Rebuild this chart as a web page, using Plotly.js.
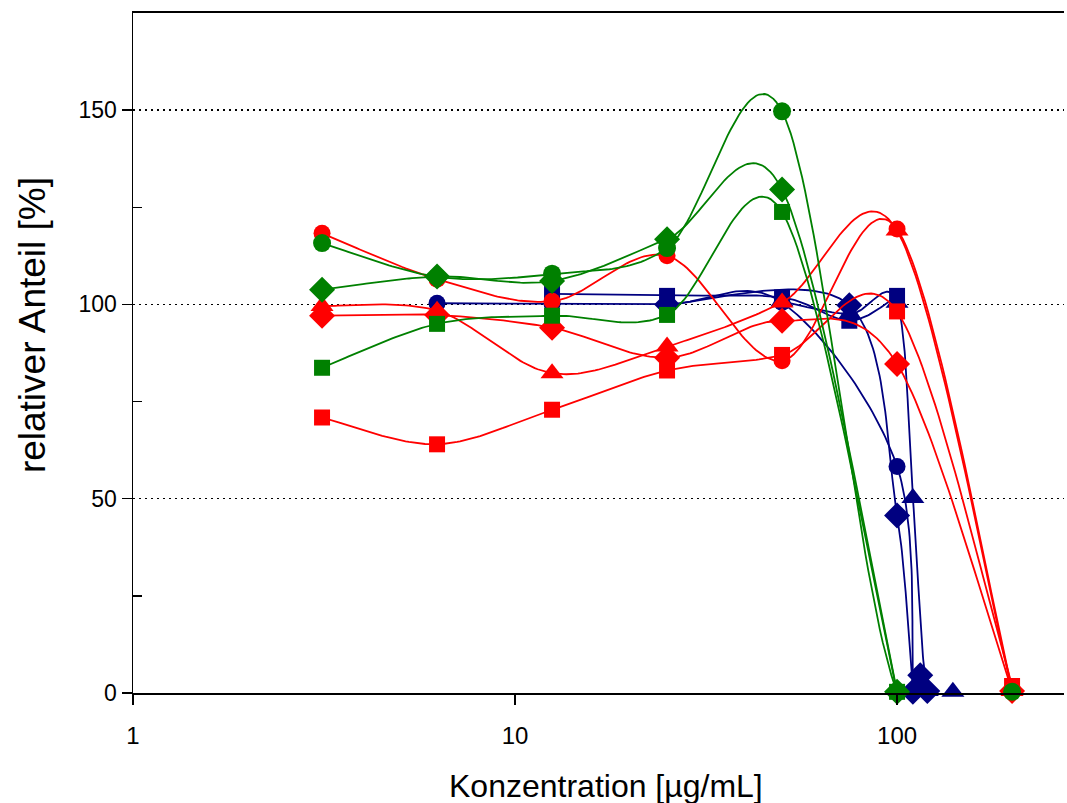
<!DOCTYPE html>
<html>
<head>
<meta charset="utf-8">
<script src="https://cdn.plot.ly/plotly-3.0.1.min.js"></script>
<style>html,body{margin:0;padding:0;background:#fff;}#chart{width:1067px;height:803px;}</style>
</head>
<body>
<div id="chart"></div>
<script>
// Concentrations [µg/mL]
const xMain = [3.125, 6.25, 12.5, 25, 50, 100, 200];
const xGreenShort = [3.125, 6.25, 12.5, 25, 50, 100];

// Red series
const redCircle   = [118.3, 106.5, 100.8, 112.5, 85.5, 119.4, 1.0];
const redSquare   = [70.9, 64.0, 72.9, 83.0, 87.0, 98.2, 1.8];
const redTriangle = [99.6, 98.4, 82.3, 89.2, 100.5, 119.0, 0.5];
const redDiamond  = [97.1, 97.3, 94.0, 86.3, 95.8, 84.7, 0.5];

// Green series
const greenCircle  = [115.8, 107.1, 107.9, 114.5, 149.7, 0.3, 0.3];
const greenDiamond = [103.8, 107.2, 106.0, 116.8, 129.6, 0.3];
const greenSquare  = [83.7, 95.0, 97.1, 97.3, 123.8, 0.3];

// Navy series
const navyCircleX = [6.25, 12.5, 25, 50, 100, 110];
const navyCircle  = [100.3, 100.1, 100.0, 100.5, 58.3, 0.3];
const navySquareX = [12.5, 25, 50, 75, 100];
const navySquare  = [102.7, 102.2, 101.8, 95.8, 102.2];
const navyTriX    = [50, 75, 100, 110, 120, 140];
const navyTri     = [100.8, 97.5, 100.4, 50.2, 0.5, 0.3];
const navyDiaX    = [25, 75, 100, 110, 115, 120];
const navyDia     = [100.0, 99.8, 45.7, 0.3, 4.6, 0.5];

const RED = '#ff0000', GREEN = '#008000', NAVY = '#000080';

// Smooth connecting curve (uniform Catmull-Rom through the data points, in log-x space)
function smoothCurve(xs, ys, steps) {
  const u = xs.map(v => Math.log10(v));
  const n = u.length, outX = [], outY = [];
  for (let i = 0; i < n - 1; i++) {
    const i0 = Math.max(i - 1, 0), i3 = Math.min(i + 2, n - 1);
    const t1x = (u[i + 1] - u[i0]) / 2, t1y = (ys[i + 1] - ys[i0]) / 2;
    const t2x = (u[i3] - u[i]) / 2, t2y = (ys[i3] - ys[i]) / 2;
    const c1x = u[i] + t1x / 3, c1y = ys[i] + t1y / 3;
    const c2x = u[i + 1] - t2x / 3, c2y = ys[i + 1] - t2y / 3;
    for (let s = (i === 0 ? 0 : 1); s <= steps; s++) {
      const t = s / steps, a = (1 - t) * (1 - t) * (1 - t), b = 3 * (1 - t) * (1 - t) * t,
            c = 3 * (1 - t) * t * t, d = t * t * t;
      outX.push(Math.pow(10, a * u[i] + b * c1x + c * c2x + d * u[i + 1]));
      outY.push(a * ys[i] + b * c1y + c * c2y + d * ys[i + 1]);
    }
  }
  return {x: outX, y: outY};
}

const data = [];
function series(x, y, color, symbol, size) {
  const cv = smoothCurve(x, y, 40);
  data.push({x: cv.x, y: cv.y, type: 'scatter', mode: 'lines',
    line: {color: color, width: 1.8}, showlegend: false, hoverinfo: 'skip', cliponaxis: true});
  data.push({x: x, y: y, type: 'scatter', mode: 'markers',
    marker: {color: color, symbol: symbol, size: size, line: {width: 0}},
    showlegend: false, cliponaxis: false});
}

series(navyCircleX, navyCircle, NAVY, 'circle', 17);
series(navySquareX, navySquare, NAVY, 'square', 16);
series(navyTriX, navyTri, NAVY, 'triangle-up', 20);
series(navyDiaX, navyDia, NAVY, 'diamond', 20);
series(xMain, redTriangle, RED, 'triangle-up', 20);
series(xMain, redDiamond, RED, 'diamond', 20);
series(xMain, redCircle, RED, 'circle', 17);
series(xMain, redSquare, RED, 'square', 16);
series(xGreenShort, greenSquare, GREEN, 'square', 16);
series(xGreenShort, greenDiamond, GREEN, 'diamond', 20);
series(xMain, greenCircle, GREEN, 'circle', 18);

const layout = {
  width: 1067, height: 803,
  margin: {l: 133, r: 3, t: 13, b: 110, pad: 0},
  paper_bgcolor: '#fff', plot_bgcolor: '#fff',
  font: {family: 'Liberation Sans, Arial, sans-serif', color: '#000'},
  xaxis: {
    type: 'log', range: [0, 2.437],
    tickvals: [1, 10, 100], ticktext: ['1', '10', '100'],
    ticks: 'outside', ticklen: 10, tickwidth: 1.5, tickcolor: '#000',
    ticklabelstandoff: 10,
    showline: true, linecolor: '#000', linewidth: 2, mirror: true,
    showgrid: false, zeroline: false,
    tickfont: {size: 24},
    automargin: false
  },
  yaxis: {
    range: [0, 175],
    tickvals: [0, 50, 100, 150],
    ticks: 'outside', ticklen: 10, tickwidth: 1.5, tickcolor: '#000',
    minor: {tickvals: [25, 75, 125], ticks: 'inside', ticklen: 9, tickwidth: 1.5, tickcolor: '#000', showgrid: false},
    showline: true, linecolor: '#000', linewidth: 1.5,
    showgrid: true, gridcolor: '#000', gridwidth: 1.5, griddash: '2px,4px',
    zeroline: false,
    tickfont: {size: 23},
    automargin: false
  },
  annotations: [
    {text: 'Konzentration [µg/mL]', xref: 'paper', yref: 'paper', x: 0.508, y: -0.1368,
     xanchor: 'center', yanchor: 'middle', showarrow: false, font: {size: 32}},
    {text: 'relativer Anteil [%]', xref: 'paper', yref: 'paper', x: -0.1085, y: 0.541,
     xanchor: 'center', yanchor: 'middle', textangle: -90, showarrow: false, font: {size: 37}}
  ]
};

Plotly.newPlot('chart', data, layout, {displayModeBar: false, staticPlot: true});
</script>
</body>
</html>
